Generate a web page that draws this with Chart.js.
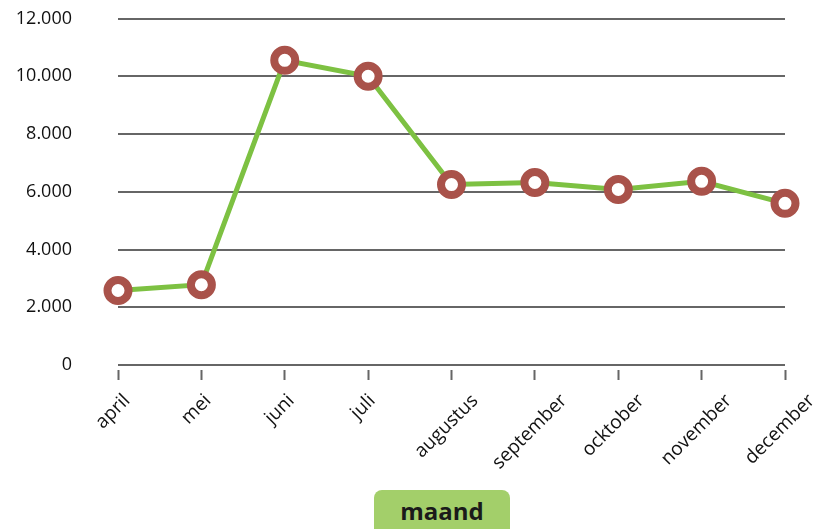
<!DOCTYPE html>
<html><head><meta charset="utf-8">
<script src="https://cdn.jsdelivr.net/npm/chart.js@4"></script>
<style>
html,body{margin:0;padding:0;background:#fff;}
#wrap{position:relative;width:814px;height:529px;overflow:hidden;}
#title{position:absolute;left:374px;top:490px;width:136px;height:50px;background:#a3cf6a;border-radius:8px;
font-family:"Open Sans",sans-serif;font-weight:700;font-size:24px;color:#1a1a1a;text-align:center;line-height:42px;}
</style></head>
<body><div id="wrap"><canvas id="c" width="814" height="529"></canvas><div id="title">maand</div></div>
<script>
const categories = ["april","mei","juni","juli","augustus","september","ocktober","november","december"];
const values = [2580, 2780, 10550, 10000, 6250, 6320, 6080, 6360, 5600];
const yTicks = [0, 2000, 4000, 6000, 8000, 10000, 12000];

const fmt = v => v.toLocaleString('de-DE');
const xFont = '19px "Open Sans"';

// Draw rotated category labels centred under their ticks (Excel style)
const centeredLabels = {
  id: 'centeredLabels',
  afterDraw(chart) {
    const xs = chart.scales.x, ctx = chart.ctx;
    const top = xs.top + 26;
    ctx.save();
    ctx.font = xFont;
    ctx.fillStyle = '#111';
    ctx.textAlign = 'center';
    ctx.textBaseline = 'middle';
    const h = 19;
    categories.forEach((lab, i) => {
      const px = xs.getPixelForTick(i) - 5;
      const L = ctx.measureText(lab).width;
      const cy = top + (L + h) / 2 * Math.SQRT1_2;
      ctx.save();
      ctx.translate(px, cy);
      ctx.rotate(-Math.PI / 4);
      ctx.fillText(lab, 0, 0);
      ctx.restore();
    });
    ctx.restore();
  }
};

new Chart(document.getElementById('c'), {
  type: 'line',
  data: {
    labels: categories,
    datasets: [{
      data: values,
      borderColor: '#7dc142',
      borderWidth: 5,
      pointRadius: 10.5,
      pointHoverRadius: 10.5,
      pointBorderWidth: 8,
      pointBorderColor: '#a9524a',
      pointBackgroundColor: '#ffffff',
      tension: 0
    }]
  },
  plugins: [centeredLabels],
  options: {
    responsive: false,
    animation: false,
    layout: { padding: { top: 16, right: 29, left: 0, bottom: 0 } },
    plugins: { legend: { display: false }, tooltip: { enabled: false } },
    scales: {
      x: {
        offset: false,
        border: { display: false },
        grid: { drawOnChartArea: false, drawTicks: true, tickLength: 15, tickWidth: 2, tickColor: '#666',
                tickBorderDash: [0, 5, 10, 0] },
        ticks: { display: false },
        afterFit: s => { s.height = 164; s.paddingLeft = 0; s.paddingRight = 0; s.paddingTop = 0; s.paddingBottom = 0; }
      },
      y: {
        min: 0, max: 12000,
        border: { display: false },
        afterBuildTicks: s => { s.ticks = yTicks.map(v => ({ value: v })); },
        grid: { color: '#666', lineWidth: 2, drawTicks: false },
        ticks: { color: '#111', font: { family: 'Open Sans', size: 18 }, padding: 46, callback: v => fmt(v) },
        afterFit: s => { s.width = 118; s.paddingTop = 0; s.paddingBottom = 0; }
      }
    }
  }
});
</script></body></html>
